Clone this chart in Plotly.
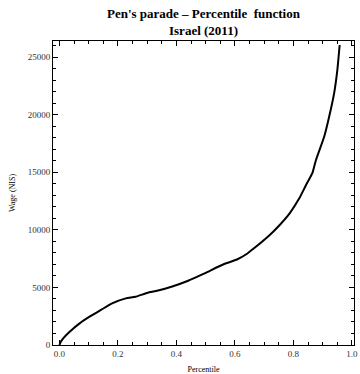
import plotly.graph_objects as go

percentile = [0.0, 0.005, 0.013, 0.035, 0.069, 0.103, 0.142, 0.18, 0.227, 0.26,
              0.302, 0.33, 0.383, 0.44, 0.496, 0.563, 0.607, 0.64, 0.663, 0.719,
              0.753, 0.787, 0.82, 0.843, 0.865, 0.877, 0.905, 0.922, 0.939, 0.95, 0.958]
wage = [0, 300, 580, 1150, 1880, 2460, 3040, 3620, 4050, 4190,
        4540, 4680, 5060, 5580, 6220, 7030, 7420, 7900, 8350, 9550,
        10420, 11430, 12730, 13890, 14950, 16060, 18080, 19820, 21850, 23870, 26040]

title_line1 = "Pen's parade \u2013 Percentile  function"
title_line2 = "Israel (2011)"
x_title = "Percentile"
y_title = "Wage (NIS)"
x_ticks = [0, 0.2, 0.4, 0.6, 0.8, 1.0]
x_ticklabels = ["0.0", "0.2", "0.4", "0.6", "0.8", "1.0"]
y_ticks = [0, 5000, 10000, 15000, 20000, 25000]
y_ticklabels = ["0", "5000", "10000", "15000", "20000", "25000"]

FONT = "Liberation Serif, Times New Roman, serif"

fig = go.Figure()
fig.add_trace(go.Scatter(x=percentile, y=wage, mode="lines",
                         line=dict(color="black", width=2, shape="spline", smoothing=0.5),
                         showlegend=False, hoverinfo="skip"))

axis_common = dict(
    showgrid=False, zeroline=False, showline=True, linecolor="black", linewidth=1,
    mirror="ticks", ticks="inside", ticklen=5, tickwidth=1, tickcolor="black",
    tickfont=dict(family=FONT, size=9, color="#333"),
    ticklabeloverflow="allow",
)

fig.update_layout(
    width=360, height=374,
    margin=dict(l=53, r=2, t=41, b=29),
    paper_bgcolor="white", plot_bgcolor="white",
    font=dict(family=FONT, color="black"),
    xaxis=dict(range=[-0.022, 1.007], tickvals=x_ticks, ticktext=x_ticklabels,
               minor=dict(dtick=0.05, tick0=0, ticks="inside", ticklen=3, tickcolor="black"),
               title=dict(text=x_title, font=dict(family=FONT, size=8), standoff=8),
               **axis_common),
    yaxis=dict(range=[0, 26390], tickvals=y_ticks, ticktext=y_ticklabels,
               minor=dict(dtick=1000, tick0=0, ticks="inside", ticklen=3, tickcolor="black"),
               title=dict(text=y_title, font=dict(family=FONT, size=8), standoff=10),
               **axis_common),
    annotations=[
        dict(text="<b>" + title_line1 + "</b>", xref="paper", yref="paper", x=0.5, y=1.092,
             xanchor="center", yanchor="middle", showarrow=False,
             font=dict(family=FONT, size=13, color="black")),
        dict(text="<b>" + title_line2 + "</b>", xref="paper", yref="paper", x=0.5, y=1.036,
             xanchor="center", yanchor="middle", showarrow=False,
             font=dict(family=FONT, size=13, color="black")),
    ],
)

fig.write_html("out.html")
